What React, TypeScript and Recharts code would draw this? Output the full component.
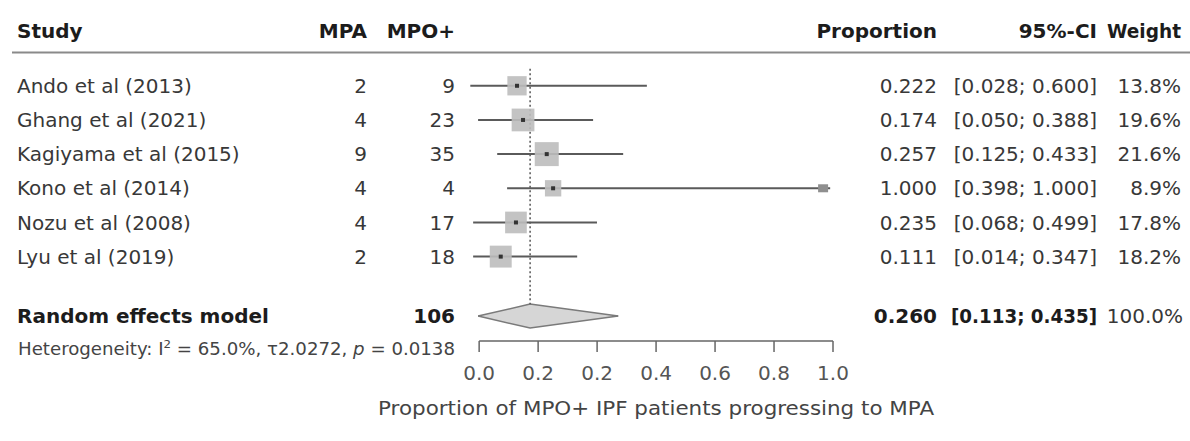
import { ComposedChart, XAxis, YAxis, Scatter, Area, ReferenceLine } from 'recharts';

// study rows
const studies = ['Ando et al (2013)', 'Ghang et al (2021)', 'Kagiyama et al (2015)', 'Kono et al (2014)', 'Nozu et al (2008)', 'Lyu et al (2019)'];
const mpaCounts = ['2', '4', '9', '4', '4', '2'];
const mpoCounts = ['9', '23', '35', '4', '17', '18'];
const proportionLabels = ['0.222', '0.174', '0.257', '1.000', '0.235', '0.111'];
const ciLabels = ['[0.028; 0.600]', '[0.050; 0.388]', '[0.125; 0.433]', '[0.398; 1.000]', '[0.068; 0.499]', '[0.014; 0.347]'];
const weightLabels = ['13.8%', '19.6%', '21.6%', '8.9%', '17.8%', '18.2%'];
const weights = [13.8, 19.6, 21.6, 8.9, 17.8, 18.2];

// marks as drawn on the axis
const markX = [0.107, 0.124, 0.191, 0.209, 0.104, 0.061];
const lowX = [-0.025, -0.003, 0.051, 0.079, -0.017, -0.017];
const highX = [0.474, 0.322, 0.407, 0.992, 0.333, 0.277];
const tailMarks = [{ row: 4, x: 0.972 }];

// pooled estimate
const pooledLabel = 'Random effects model';
const pooledTotal = '106';
const pooledProportion = '0.260';
const pooledCi = '[0.113; 0.435]';
const pooledWeight = '100.0%';
const pooledX = 0.144;
const pooledLow = -0.003;
const pooledHigh = 0.393;

const xTicks = [0, 1 / 6, 2 / 6, 3 / 6, 4 / 6, 5 / 6, 1];
const xTickLabels = ['0.0', '0.2', '0.2', '0.4', '0.6', '0.8', '1.0'];
const axisTitle = 'Proportion of MPO+ IPF patients progressing to MPA';

const FONT = 'DejaVu Sans';
const TEXT = '#383838';
const HEAD = '#1c1c1c';

const HEADER_Y = -0.62;
const POOLED_Y = 7.74;
const rowY = studies.map((_, i) => i + 1);
const yTicks = [HEADER_Y, ...rowY, POOLED_Y];
const Y_DOMAIN: [number, number] = [-0.75, 8.47];
const X_DOMAIN: [number, number] = [-0.04, 1];
const DIAMOND_H = 0.35;

const points = studies.map((s, i) => ({ x: markX[i], y: rowY[i], w: weights[i] }));
const tails = tailMarks.map(t => ({ x: t.x, y: rowY[t.row - 1] }));
const diamond = [
  { x: pooledLow, r: [POOLED_Y, POOLED_Y] },
  { x: pooledX, r: [POOLED_Y - DIAMOND_H, POOLED_Y + DIAMOND_H] },
  { x: pooledHigh, r: [POOLED_Y, POOLED_Y] },
];

function Txt({ x, y, anchor = 'start', bold = false, size = 20, fill = TEXT, len, children }: any) {
  return (
    <text x={x} y={y} dy="0.36em" textAnchor={anchor} fontFamily={FONT} fontSize={size}
      fontWeight={bold ? 700 : 400} fill={fill}
      textLength={len} lengthAdjust={len ? 'spacingAndGlyphs' : undefined}>
      {children}
    </text>
  );
}

function LeftTick({ y, payload }: any) {
  const v = payload.value;
  if (v === HEADER_Y) {
    return (
      <g>
        <Txt x={17} y={y} bold fill={HEAD}>Study</Txt>
        <Txt x={367} y={y} anchor="end" bold fill={HEAD}>MPA</Txt>
        <Txt x={455} y={y} anchor="end" bold fill={HEAD}>MPO+</Txt>
        <line x1={12} x2={1190} y1={y + 22} y2={y + 22} stroke="#8a8a8a" strokeWidth={2} />
      </g>
    );
  }
  if (v === POOLED_Y) {
    return (
      <g>
        <Txt x={17} y={y} bold fill={HEAD}>{pooledLabel}</Txt>
        <Txt x={455} y={y} anchor="end" bold fill={HEAD}>{pooledTotal}</Txt>
        <text x={18} y={y + 33} dy="0.36em" fontFamily={FONT} fontSize={17} fill="#444"
          textLength={437} lengthAdjust="spacingAndGlyphs">
          Heterogeneity: I<tspan dy="-7" fontSize={11}>2</tspan>
          <tspan dy="7"> = 65.0%, τ2.0272, </tspan>
          <tspan fontStyle="italic">p</tspan> = 0.0138
        </text>
      </g>
    );
  }
  const i = rowY.indexOf(v);
  if (i < 0) return null;
  return (
    <g>
      <Txt x={17} y={y}>{studies[i]}</Txt>
      <Txt x={367} y={y} anchor="end">{mpaCounts[i]}</Txt>
      <Txt x={455} y={y} anchor="end">{mpoCounts[i]}</Txt>
    </g>
  );
}

function RightTick({ y, payload }: any) {
  const v = payload.value;
  if (v === HEADER_Y) {
    return (
      <g>
        <Txt x={937} y={y} anchor="end" bold fill={HEAD}>Proportion</Txt>
        <Txt x={1097} y={y} anchor="end" bold fill={HEAD}>95%-CI</Txt>
        <Txt x={1181} y={y} anchor="end" bold fill={HEAD} len={74}>Weight</Txt>
      </g>
    );
  }
  if (v === POOLED_Y) {
    return (
      <g>
        <Txt x={937} y={y} anchor="end" bold fill={HEAD}>{pooledProportion}</Txt>
        <Txt x={1097} y={y} anchor="end" bold fill={HEAD} len={146}>{pooledCi}</Txt>
        <Txt x={1183} y={y} anchor="end">{pooledWeight}</Txt>
      </g>
    );
  }
  const i = rowY.indexOf(v);
  if (i < 0) return null;
  return (
    <g>
      <Txt x={937} y={y} anchor="end">{proportionLabels[i]}</Txt>
      <Txt x={1097} y={y} anchor="end">{ciLabels[i]}</Txt>
      <Txt x={1181} y={y} anchor="end">{weightLabels[i]}</Txt>
    </g>
  );
}

function StudySquare({ cx, cy, payload }: any) {
  const s = 11 + payload.w * 0.6;
  return (
    <g>
      <rect x={cx - s / 2} y={cy - s / 2} width={s} height={s} fill="#bdbdbd" fillOpacity={0.9} />
      <rect x={cx - 2} y={cy - 2} width={4} height={4} fill="#333" />
    </g>
  );
}

function TailMark({ cx, cy }: any) {
  return <rect x={cx - 5} y={cy - 4} width={10} height={8} fill="#8f8f8f" />;
}

function AxisTitle({ viewBox }: any) {
  const [d0, d1] = X_DOMAIN;
  const mid = viewBox.x + ((0.5 - d0) / (d1 - d0)) * viewBox.width;
  return (
    <text x={mid} y={viewBox.y + 67} textAnchor="middle" dy="0.36em" fontFamily={FONT} fontSize={20} fill="#444"
      textLength={556} lengthAdjust="spacingAndGlyphs">
      {axisTitle}
    </text>
  );
}

export default function App() {
  return (
    <div style={{ position: 'absolute', left: 0, top: 0, width: 1190, height: 441, background: '#fff', fontFamily: FONT }}>
      <ComposedChart width={1190} height={441} margin={{ top: 26, right: 0, bottom: 0, left: 0 }}>
        <XAxis
          type="number"
          dataKey="x"
          domain={X_DOMAIN}
          allowDataOverflow
          ticks={xTicks}
          interval={0}
          tickFormatter={(v: number) => xTickLabels[xTicks.indexOf(v)]}
          axisLine={false}
          tickSize={11}
          tickMargin={14}
          tickLine={{ stroke: '#666', strokeWidth: 1.5 }}
          tick={{ fontSize: 20, fill: '#555', fontFamily: FONT }}
          height={100}
          label={<AxisTitle />}
        />
        <YAxis yAxisId="L" type="number" dataKey="y" domain={Y_DOMAIN} allowDataOverflow reversed
          ticks={yTicks} interval={0} width={465} axisLine={false} tickLine={false} tick={<LeftTick />} />
        <YAxis yAxisId="R" orientation="right" type="number" domain={Y_DOMAIN} allowDataOverflow reversed
          ticks={yTicks} interval={0} width={357} axisLine={false} tickLine={false} tick={<RightTick />} />

        <ReferenceLine yAxisId="L" segment={[{ x: 0, y: Y_DOMAIN[1] }, { x: 1, y: Y_DOMAIN[1] }]}
          stroke="#666" strokeWidth={1.5} ifOverflow="visible" />
        <ReferenceLine yAxisId="L" segment={[{ x: pooledX, y: 0.5 }, { x: pooledX, y: POOLED_Y - DIAMOND_H }]}
          stroke="#555" strokeWidth={1.5} strokeDasharray="2 2.5" ifOverflow="visible" />
        {points.map((p, i) => (
          <ReferenceLine key={i} yAxisId="L" segment={[{ x: lowX[i], y: p.y }, { x: highX[i], y: p.y }]}
            stroke="#5a5a5a" strokeWidth={2} ifOverflow="visible" />
        ))}

        <Area yAxisId="L" data={diamond} dataKey="r" type="linear" stroke="#7a7a7a" strokeWidth={1.5}
          fill="#d6d6d6" fillOpacity={1} dot={false} activeDot={false} isAnimationActive={false} />
        <Scatter yAxisId="L" data={points} dataKey="y" shape={<StudySquare />} isAnimationActive={false} />
        <Scatter yAxisId="L" data={tails} dataKey="y" shape={<TailMark />} isAnimationActive={false} />
      </ComposedChart>
    </div>
  );
}
